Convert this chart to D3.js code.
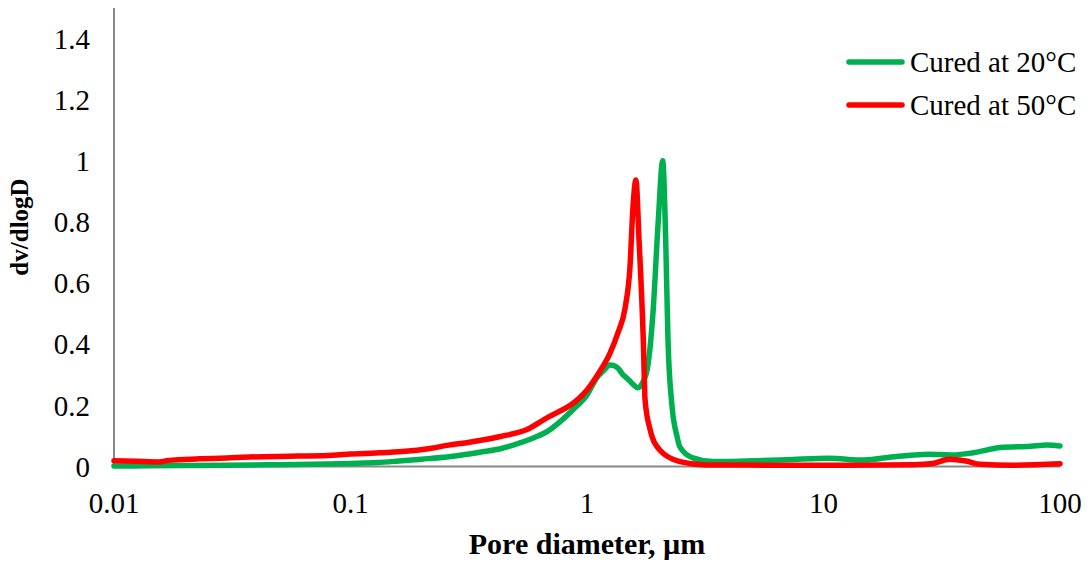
<!DOCTYPE html>
<html>
<head>
<meta charset="utf-8">
<script src="https://cdn.jsdelivr.net/npm/d3@7"></script>
<style>
  html, body { margin: 0; padding: 0; background: #fff; }
  svg { display: block; }
  text { font-family: "Liberation Serif", "Times New Roman", serif; fill: #000; }
</style>
</head>
<body>
<svg id="chart" width="1089" height="562"></svg>
<script>
// ---- Data ----
const seriesNames = ["Cured at 20°C", "Cured at 50°C"];
const seriesColors = ["#00B050", "#FF0000"];

const diam20 = [0.01, 0.0125, 0.02, 0.03, 0.05, 0.08, 0.1, 0.13, 0.16, 0.2, 0.26, 0.31, 0.36, 0.43, 0.52, 0.6, 0.68, 0.77, 0.87, 1.0, 1.1, 1.18, 1.25, 1.3, 1.35, 1.42, 1.48, 1.56, 1.64, 1.72, 1.8, 1.9, 2.0, 2.09, 2.15, 2.2, 2.29, 2.4, 2.47, 2.8, 3.4, 4.7, 7, 10.6, 14.7, 20.4, 28, 35, 43, 56, 75, 88, 100];
const val20 = [0.002, 0.002, 0.003, 0.004, 0.006, 0.008, 0.01, 0.013, 0.018, 0.024, 0.032, 0.04, 0.048, 0.058, 0.077, 0.095, 0.115, 0.147, 0.185, 0.234, 0.29, 0.315, 0.332, 0.33, 0.322, 0.3, 0.288, 0.27, 0.258, 0.275, 0.32, 0.5, 0.8, 1.0, 0.75, 0.414, 0.195, 0.1, 0.064, 0.028, 0.016, 0.018, 0.022, 0.027, 0.021, 0.033, 0.04, 0.038, 0.045, 0.062, 0.066, 0.07, 0.067];

const diam50 = [0.01, 0.0125, 0.0155, 0.017, 0.023, 0.03, 0.0375, 0.06, 0.084, 0.1, 0.16, 0.22, 0.26, 0.31, 0.43, 0.56, 0.68, 0.75, 0.85, 1.0, 1.12, 1.25, 1.35, 1.45, 1.52, 1.565, 1.61, 1.66, 1.73, 1.76, 1.85, 2.03, 2.47, 3.2, 12.6, 24, 29, 34, 40, 46, 63, 100];
const val50 = [0.019, 0.017, 0.015, 0.02, 0.025, 0.028, 0.031, 0.034, 0.037, 0.041, 0.048, 0.06, 0.07, 0.078, 0.098, 0.122, 0.16, 0.177, 0.2, 0.25, 0.305, 0.37, 0.436, 0.52, 0.654, 0.85, 0.937, 0.74, 0.414, 0.218, 0.12, 0.054, 0.016, 0.005, 0.004, 0.006, 0.01, 0.024, 0.018, 0.007, 0.004, 0.009];

const xTicks = [0.01, 0.1, 1, 10, 100];
const xTickLabels = ["0.01", "0.1", "1", "10", "100"];
const yTicks = [0, 0.2, 0.4, 0.6, 0.8, 1, 1.2, 1.4];
const yTickLabels = ["0", "0.2", "0.4", "0.6", "0.8", "1", "1.2", "1.4"];
const xTitle = "Pore diameter, µm";
const yTitle = "dv/dlogD";

// ---- Layout ----
const svg = d3.select("#chart");
const plotLeft = 114, plotRight = 1060, plotTop = 8, plotBottom = 466.5;

const x = d3.scaleLog().domain([0.01, 100]).range([plotLeft, plotRight]);
const y = d3.scaleLinear().domain([0, 1.5]).range([plotBottom, plotTop]);

// Axes lines
const axisColor = "#898989";
svg.append("line").attr("x1", plotLeft).attr("x2", plotLeft).attr("y1", plotTop).attr("y2", plotBottom)
  .attr("stroke", axisColor).attr("stroke-width", 2);
svg.append("line").attr("x1", plotLeft).attr("x2", plotRight).attr("y1", plotBottom).attr("y2", plotBottom)
  .attr("stroke", axisColor).attr("stroke-width", 2);

// Y tick labels
svg.append("g").selectAll("text").data(yTicks).join("text")
  .attr("x", 90).attr("y", d => y(d)).attr("dy", "0.35em")
  .attr("text-anchor", "end").attr("font-size", 29)
  .text((d, i) => yTickLabels[i]);

// X tick labels
svg.append("g").selectAll("text").data(xTicks).join("text")
  .attr("x", d => x(d)).attr("y", 513)
  .attr("text-anchor", "middle").attr("font-size", 29)
  .text((d, i) => xTickLabels[i]);

// Axis titles
svg.append("text").attr("x", 587).attr("y", 554).attr("text-anchor", "middle")
  .attr("font-size", 30).attr("font-weight", "bold").text(xTitle);
svg.append("text").attr("transform", "translate(28,227) rotate(-90)").attr("text-anchor", "middle")
  .attr("font-size", 25).attr("font-weight", "bold").text(yTitle);

// Lines
const line = d3.line().x(d => x(d[0])).y(d => y(d[1])).curve(d3.curveMonotoneX);
const series = [
  d3.zip(diam20, val20),
  d3.zip(diam50, val50)
];
series.forEach((s, i) => {
  svg.append("path").datum(s).attr("d", line)
    .attr("fill", "none").attr("stroke", seriesColors[i])
    .attr("stroke-width", 5.5).attr("stroke-linejoin", "round").attr("stroke-linecap", "round");
});

// Legend
const legendY = [62, 105];
const lg = svg.append("g");
seriesNames.forEach((name, i) => {
  lg.append("line").attr("x1", 849).attr("x2", 902).attr("y1", legendY[i]).attr("y2", legendY[i])
    .attr("stroke", seriesColors[i]).attr("stroke-width", 5.5).attr("stroke-linecap", "round");
  lg.append("text").attr("x", 910).attr("y", legendY[i]).attr("dy", "0.35em")
    .attr("font-size", 29).text(name);
});
</script>
</body>
</html>
